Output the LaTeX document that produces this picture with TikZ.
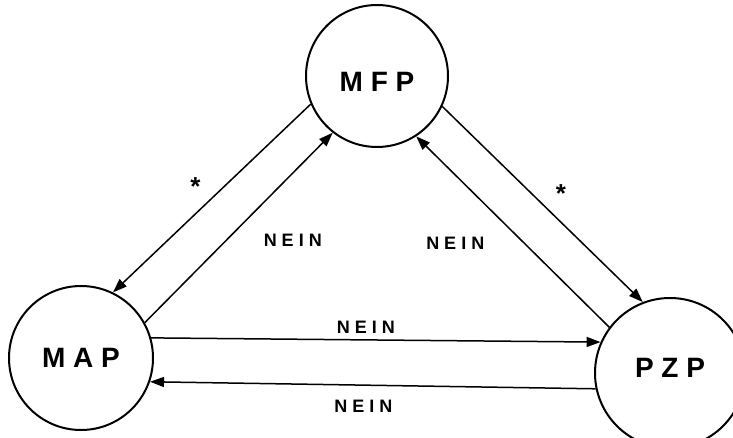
\documentclass[tikz,border=0pt]{standalone}
\usepackage{fontspec}
\setmainfont{Liberation Sans}
\usetikzlibrary{arrows.meta}

\begin{document}
\begin{tikzpicture}[
  x=0.5pt, y=-0.5pt,
  state/.style={draw, circle, line width=1pt, inner sep=0pt, font=\fontsize{14}{16}\selectfont\bfseries},
  arr/.style={-{Triangle[length=7pt, width=5pt]}, line width=0.75pt},
  lbl/.style={font=\fontsize{9}{11}\selectfont\bfseries, inner sep=1pt},
  star/.style={font=\fontsize{13}{15}\selectfont\bfseries, inner sep=1pt}
]
\useasboundingbox (0,0) rectangle (733,438);
\clip (0,0) rectangle (733,438);
% the three states
\node[state, minimum size=71pt, text height=16pt, text depth=0pt] (mfp) at (377,76) {M F P};
\node[state, minimum size=72pt] (map) at (81,358) {M A P};
\node[state, minimum size=75pt, text height=10pt, text depth=6pt] (pzp) at (670,373) {P Z P};
% MFP <-> MAP
\draw[arr] (mfp.203) -- node[star, midway, xshift=-8.25pt, yshift=6pt]{*} (map.64);
\draw[arr] (map.29) -- node[lbl, midway, xshift=27pt, yshift=-6.25pt]{N E I N} (mfp.232);
% MFP <-> PZP
\draw[arr] (mfp.335) -- node[star, midway, xshift=9.25pt, yshift=5.2pt]{*} (pzp.111);
\draw[arr] (pzp.143) -- node[lbl, midway, xshift=-28.75pt, yshift=-5.5pt]{N E I N} (mfp.303);
% MAP <-> PZP
\draw[arr] (map.16) -- node[lbl, midway, xshift=-5pt, yshift=6.5pt]{N E I N} (pzp.156);
\draw[arr] (pzp.192) -- node[lbl, midway, xshift=-4.75pt, yshift=-10.5pt]{N E I N} (map.341);
\end{tikzpicture}
\end{document}
